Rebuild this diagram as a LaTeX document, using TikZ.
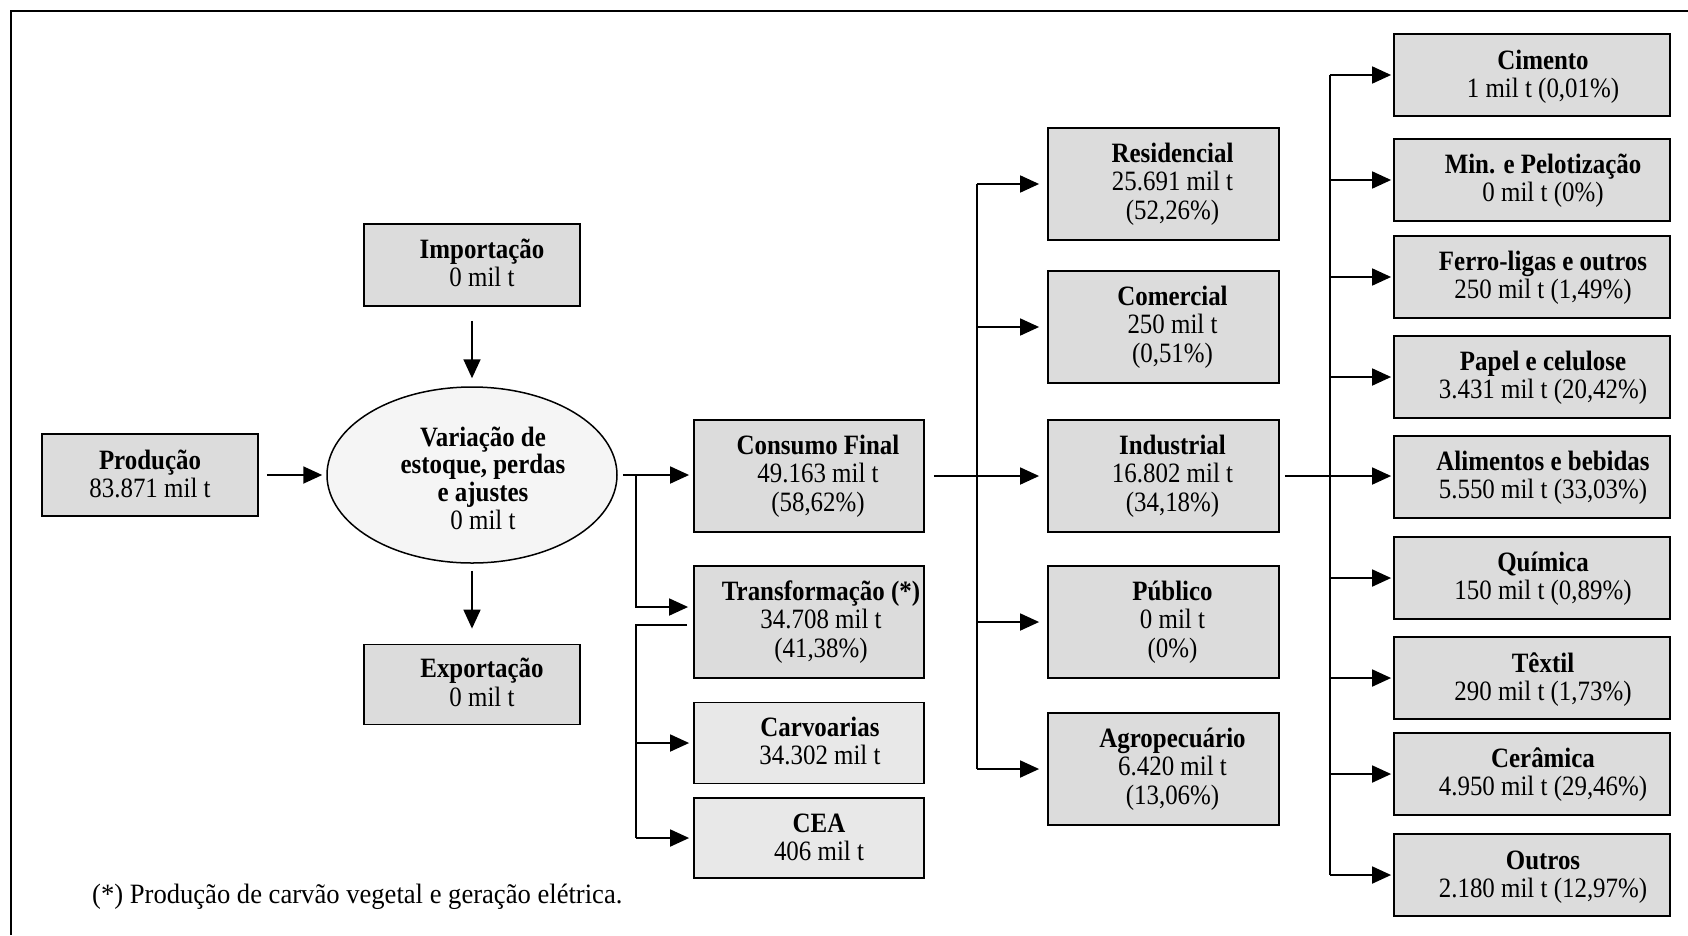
\documentclass[tikz,border=0pt]{standalone}
\usepackage{fontspec}
\setmainfont{Liberation Serif}[FakeStretch=0.89]
\newfontfamily\notefont{Liberation Serif}[FakeStretch=0.95]
\usetikzlibrary{arrows.meta,shapes.geometric}
\definecolor{boxgray}{HTML}{DCDCDC}
\definecolor{palegray}{HTML}{E8E8E8}
\definecolor{ellfill}{HTML}{F5F5F5}
% box text: a horizontal offset (twice the shift), a drop, and the centred lines
\newcommand{\boxlabel}[3][2pt]{\hspace*{#2}\raisebox{-#1}[\height][\depth]{\begin{tabular}{@{}c@{}}#3\end{tabular}}}
\begin{document}
\begin{tikzpicture}[x=1pt,y=-1pt,
  every node/.style={font=\fontsize{28}{28.5}\selectfont},
  flowbox/.style={draw, line width=1.8pt, fill=boxgray, inner sep=0pt,
                  minimum width=216pt, minimum height=82pt},
  midbox/.style={flowbox, minimum width=230pt, minimum height=112pt},
  subbox/.style={flowbox, fill=palegray, minimum width=230pt, minimum height=80pt},
  secbox/.style={flowbox, minimum width=231pt, minimum height=112pt},
  indbox/.style={flowbox, minimum width=276pt, minimum height=82pt},
  wire/.style={line width=1.8pt},
  conn/.style={wire, -{Triangle[length=19pt,width=17pt]}}
]
\useasboundingbox (0,0) rectangle (1688,935);

% outer frame (top and left sides)
\draw[line width=2pt] (11,935) -- (11,11) -- (1688,11);

% supply side
\node[flowbox] (prod) at (150,475) {\boxlabel[3pt]{0pt}{\textbf{Produção}\\83.871 mil t}};
\node[flowbox] (imp) at (472,265) {\boxlabel{20pt}{\textbf{Importação}\\0 mil t}};
\node[ellipse, draw, line width=1.5pt, fill=ellfill, inner sep=0pt,
      minimum width=290pt, minimum height=176pt] (ell) at (472,475)
      {\fontsize{28}{27.5}\selectfont\boxlabel[7pt]{22pt}{\textbf{Variação de}\\\textbf{estoque, perdas}\\\textbf{e ajustes}\\0 mil t}};
\node[flowbox, minimum height=80pt] (exp) at (472,684.5) {\boxlabel{20pt}{\textbf{Exportação}\\0 mil t}};

% use
\node[midbox] (cons) at (809,476) {\boxlabel[1pt]{18pt}{\textbf{Consumo Final}\\49.163 mil t\\(58,62\%)}};
\node[midbox] (trans) at (809,622) {\boxlabel[1pt]{24pt}{\textbf{Transformação (*)}\\34.708 mil t\\(41,38\%)}};
\node[subbox, minimum height=81pt] (carv) at (809,743) {\boxlabel{22pt}{\textbf{Carvoarias}\\34.302 mil t}};
\node[subbox] (cea) at (809,838) {\boxlabel[3pt]{20pt}{\textbf{CEA}\\406 mil t}};

% final consumption sectors
\node[secbox] (res) at (1163.5,184) {\boxlabel[1pt]{18pt}{\textbf{Residencial}\\25.691 mil t\\(52,26\%)}};
\node[secbox] (com) at (1163.5,327) {\boxlabel[1pt]{18pt}{\textbf{Comercial}\\250 mil t\\(0,51\%)}};
\node[secbox] (ind) at (1163.5,476) {\boxlabel[1pt]{18pt}{\textbf{Industrial}\\16.802 mil t\\(34,18\%)}};
\node[secbox] (pub) at (1163.5,622) {\boxlabel[1pt]{18pt}{\textbf{Público}\\0 mil t\\(0\%)}};
\node[secbox] (agr) at (1163.5,769) {\boxlabel[1pt]{18pt}{\textbf{Agropecuário}\\6.420 mil t\\(13,06\%)}};

% industrial branches
\node[indbox] (cim) at (1532,75)  {\boxlabel[3pt]{22pt}{\textbf{Cimento}\\1 mil t (0,01\%)}};
\node[indbox] (min) at (1532,180) {\boxlabel[2pt]{22pt}{\textbf{Min. e Pelotização}\\0 mil t (0\%)}};
\node[indbox] (fer) at (1532,277) {\boxlabel[2pt]{22pt}{\textbf{Ferro-ligas e outros}\\250 mil t (1,49\%)}};
\node[indbox] (pap) at (1532,377) {\boxlabel[2pt]{22pt}{\textbf{Papel e celulose}\\3.431 mil t (20,42\%)}};
\node[indbox] (ali) at (1532,477) {\boxlabel[2pt]{22pt}{\textbf{Alimentos e bebidas}\\5.550 mil t (33,03\%)}};
\node[indbox] (qui) at (1532,578) {\boxlabel[2pt]{22pt}{\textbf{Química}\\150 mil t (0,89\%)}};
\node[indbox] (tex) at (1532,678) {\boxlabel[3pt]{22pt}{\textbf{Têxtil}\\290 mil t (1,73\%)}};
\node[indbox] (cer) at (1532,774) {\boxlabel[2pt]{22pt}{\textbf{Cerâmica}\\4.950 mil t (29,46\%)}};
\node[indbox] (out) at (1532,875) {\boxlabel[3pt]{22pt}{\textbf{Outros}\\2.180 mil t (12,97\%)}};

% footnote
\node[anchor=west, inner sep=0pt] (note) at (92,897) {\notefont (*) Produção de carvão vegetal e geração elétrica.};

% junction points of the branching lines
\coordinate (j1) at ([xshift=18pt]ell.east);
\coordinate (j3) at ([xshift=52pt]cons.east);
\coordinate (j4) at ([xshift=50pt]ind.east);

% supply arrows
\draw[conn] ([xshift=8pt]prod.east) -- ([xshift=-4pt]ell.west);
\draw[conn] ([yshift=-14pt]imp.south) -- ([yshift=8pt]ell.north);
\draw[conn] ([yshift=-7pt]ell.south) -- ([yshift=15pt]exp.north);

% consumption / transformation split
\draw[conn] ([xshift=5pt]ell.east) -- ([xshift=-4pt]ell.east -| cons.west);
\draw[conn] (j1) |- ([xshift=-5pt,yshift=15pt]trans.west);
\draw[wire] ([xshift=-6pt,yshift=-3pt]trans.west) -| (j1 |- cea.west);
\draw[conn] (j1 |- carv.west) -- ([xshift=-4pt]carv.west);
\draw[conn] (j1 |- cea.west) -- ([xshift=-4pt]cea.west);

% final consumption sectors
\draw[conn] ([xshift=9pt]cons.east) -- ([xshift=-8pt]cons.east -| ind.west);
\draw[wire] (j3 |- res.west) -- (j3 |- agr.west);
\foreach \s in {res,com,pub,agr}
  \draw[conn] (j3 |- \s.west) -- ([xshift=-8pt]\s.west);

% industrial branches
\draw[conn] ([xshift=5pt]ind.east) -- ([xshift=-2pt]ind.east -| ali.west);
\draw[wire] (j4 |- cim.west) -- (j4 |- out.west);
\foreach \s in {cim,min,fer,pap,qui,tex,cer,out}
  \draw[conn] (j4 |- \s.west) -- ([xshift=-2pt]\s.west);
\end{tikzpicture}
\end{document}
